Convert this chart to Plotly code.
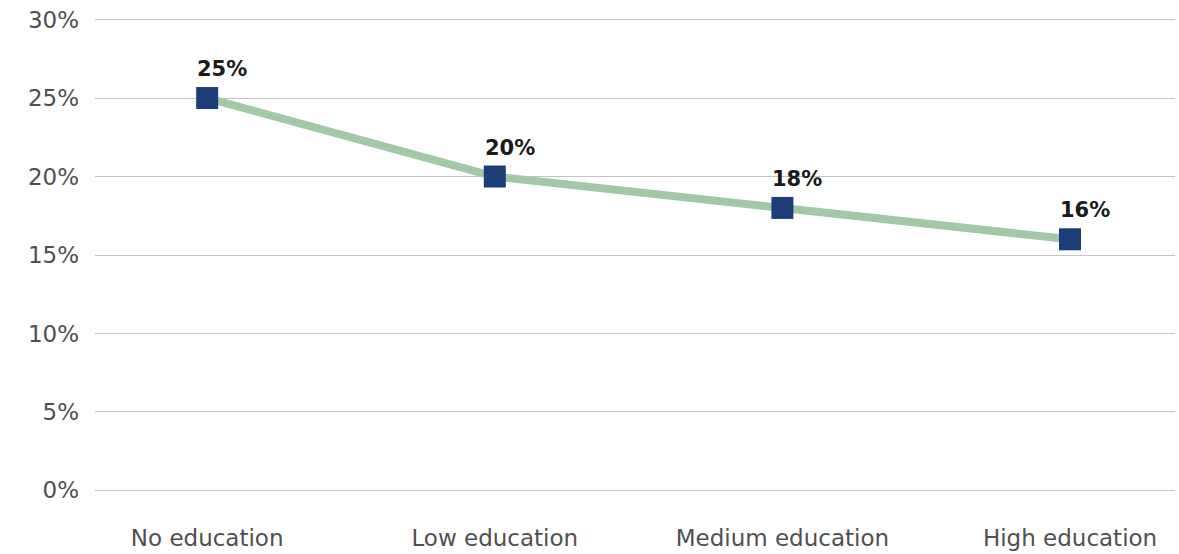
import plotly.graph_objects as go

categories = ["No education", "Low education", "Medium education", "High education"]
values = [25, 20, 18, 16]
labels = ["25%", "20%", "18%", "16%"]
y_ticks = [0, 5, 10, 15, 20, 25, 30]
y_tick_labels = ["0%", "5%", "10%", "15%", "20%", "25%", "30%"]

FONT = "DejaVu Sans"

fig = go.Figure()
fig.add_trace(go.Scatter(
    x=list(range(len(categories))), y=values, mode="lines+markers",
    line=dict(color="#a3c8a6", width=8),
    marker=dict(symbol="square", size=22, color="#1b3d78"),
    hoverinfo="skip", showlegend=False,
))
for i, (v, t) in enumerate(zip(values, labels)):
    fig.add_annotation(x=i, y=v, text="<b>%s</b>" % t, showarrow=False,
                       xanchor="center", yanchor="bottom", xshift=15, yshift=15,
                       font=dict(size=21, color="#1a1a1a", family=FONT))

fig.update_layout(
    width=1179, height=554,
    margin=dict(l=95, r=4, t=18, b=62),
    paper_bgcolor="white", plot_bgcolor="white",
    font=dict(family=FONT, size=23, color="#444444"),
)
fig.update_xaxes(
    tickmode="array", tickvals=list(range(len(categories))), ticktext=categories,
    range=[-0.39, 3.365], showgrid=False, zeroline=False, showline=False,
    ticklabelstandoff=30, automargin=False,
    tickfont=dict(size=23, color="#505050", family=FONT),
)
fig.update_yaxes(
    tickmode="array", tickvals=y_ticks, ticktext=y_tick_labels,
    range=[-0.1, 30.1], showgrid=True, gridcolor="#c4c4c4", gridwidth=1,
    zeroline=False, showline=False, ticklabelstandoff=15, automargin=False,
    tickfont=dict(size=23, color="#505050", family=FONT),
)
fig.write_html("out.html")
